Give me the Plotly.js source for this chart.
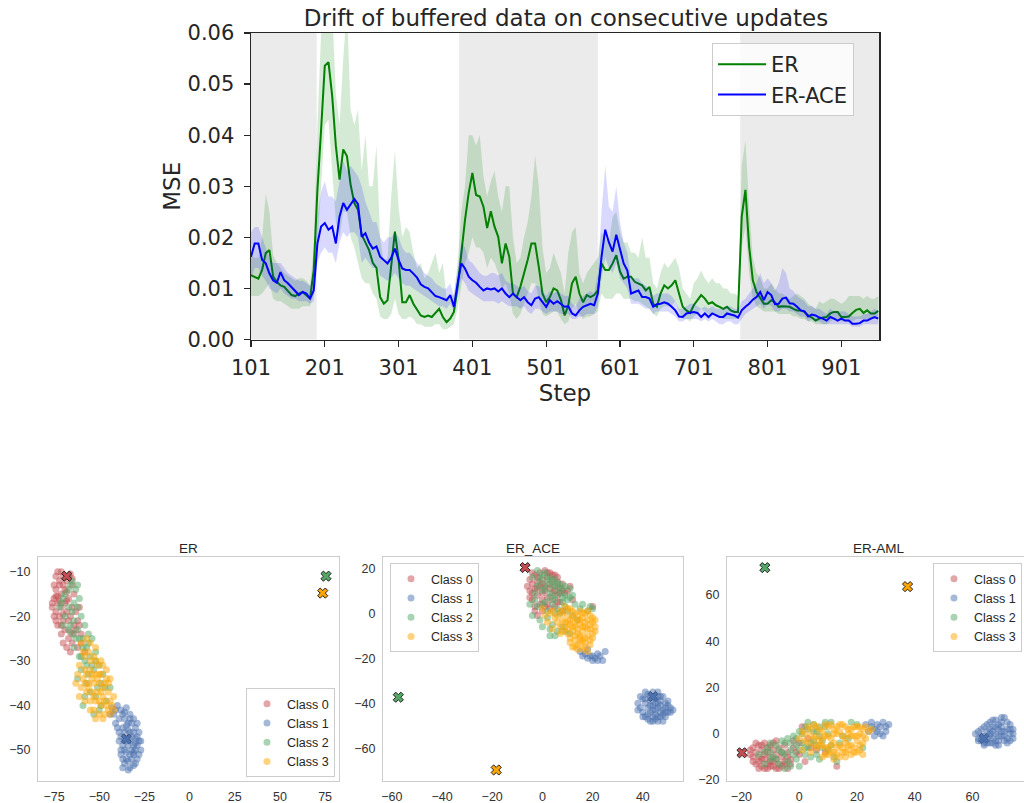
<!DOCTYPE html>
<html>
<head>
<meta charset="utf-8">
<script src="https://cdn.plot.ly/plotly-3.0.1.min.js"></script>
<style>html,body{margin:0;padding:0;background:#fff;}#chart{width:1024px;height:803px;}</style>
</head>
<body>
<div id="chart"></div>
<script>
// ---------- Top chart: MSE drift (sampled every 5 steps from 101) ----------
const erMse = [
.0126,.0123,.0119,.0136,.0169,.0175,.0123,.0113,.0106,.0103,
.0096,.0087,.0085,.0090,.0093,.0087,.0080,.0136,.0293,.0411,
.0536,.0543,.0477,.0379,.0313,.0372,.0359,.0303,.0267,.0254,
.0205,.0190,.0175,.0150,.0140,.0083,.0070,.0077,.0149,.0211,
.0156,.0073,.0073,.0087,.0070,.0057,.0047,.0044,.0047,.0044,
.0052,.0060,.0044,.0034,.0041,.0054,.0103,.0175,.0234,.0287,
.0326,.0283,.0280,.0260,.0218,.0251,.0221,.0201,.0149,.0188,
.0162,.0090,.0083,.0103,.0129,.0156,.0188,.0188,.0142,.0090,
.0073,.0083,.0100,.0096,.0077,.0047,.0067,.0110,.0123,.0090,
.0073,.0087,.0083,.0087,.0096,.0149,.0136,.0136,.0149,.0165,
.0133,.0119,.0123,.0123,.0113,.0110,.0106,.0096,.0103,.0070,
.0064,.0090,.0106,.0100,.0106,.0116,.0090,.0064,.0057,.0052,
.0067,.0077,.0087,.0080,.0070,.0073,.0067,.0064,.0060,.0064,
.0057,.0054,.0054,.0241,.0293,.0182,.0116,.0093,.0080,.0070,
.0070,.0077,.0073,.0064,.0065,.0064,.0064,.0060,.0057,.0057,
.0054,.0047,.0043,.0037,.0041,.0043,.0044,.0051,.0054,.0054,
.0044,.0044,.0045,.0052,.0058,.0060,.0052,.0057,.0051,.0051,
.0056];
const erLow = [
.0085,.0085,.0085,.0090,.0100,.0110,.0080,.0075,.0075,.0070,
.0065,.0060,.0060,.0060,.0065,.0065,.0065,.0090,.0180,.0300,
.0420,.0430,.0330,.0230,.0200,.0250,.0250,.0200,.0180,.0150,
.0120,.0110,.0110,.0090,.0080,.0045,.0040,.0040,.0050,.0080,
.0050,.0040,.0040,.0045,.0040,.0030,.0030,.0025,.0025,.0025,
.0030,.0030,.0020,.0020,.0025,.0030,.0060,.0110,.0150,.0170,
.0200,.0180,.0180,.0170,.0140,.0160,.0150,.0130,.0100,.0110,
.0090,.0050,.0040,.0050,.0070,.0090,.0110,.0110,.0080,.0050,
.0045,.0050,.0055,.0055,.0040,.0030,.0035,.0060,.0070,.0050,
.0040,.0045,.0045,.0050,.0055,.0090,.0080,.0080,.0080,.0090,
.0090,.0080,.0080,.0080,.0075,.0075,.0070,.0065,.0060,.0050,
.0045,.0060,.0065,.0065,.0065,.0075,.0055,.0040,.0040,.0035,
.0045,.0050,.0060,.0055,.0050,.0050,.0045,.0045,.0040,.0040,
.0040,.0040,.0040,.0180,.0220,.0130,.0080,.0065,.0060,.0055,
.0055,.0055,.0055,.0050,.0050,.0050,.0050,.0045,.0045,.0040,
.0040,.0035,.0035,.0030,.0030,.0030,.0030,.0035,.0040,.0040,
.0035,.0035,.0035,.0035,.0040,.0040,.0040,.0040,.0040,.0040,
.0040];
const erHigh = [
.0165,.0160,.0160,.0200,.0285,.0250,.0165,.0150,.0140,.0130,
.0125,.0120,.0115,.0120,.0120,.0115,.0105,.0180,.0420,.0600,
.0650,.0650,.0650,.0480,.0420,.0550,.0650,.0450,.0420,.0450,
.0330,.0400,.0300,.0300,.0380,.0200,.0150,.0160,.0280,.0370,
.0260,.0200,.0220,.0210,.0170,.0140,.0150,.0120,.0130,.0150,
.0170,.0130,.0150,.0080,.0080,.0090,.0150,.0250,.0300,.0400,
.0400,.0380,.0400,.0320,.0280,.0310,.0330,.0280,.0250,.0300,
.0300,.0200,.0150,.0160,.0200,.0230,.0280,.0360,.0300,.0180,
.0130,.0140,.0170,.0150,.0130,.0090,.0170,.0210,.0220,.0130,
.0110,.0130,.0140,.0150,.0160,.0210,.0200,.0190,.0240,.0250,
.0210,.0190,.0190,.0170,.0170,.0160,.0200,.0160,.0160,.0110,
.0100,.0130,.0150,.0140,.0150,.0160,.0140,.0100,.0090,.0080,
.0110,.0120,.0135,.0120,.0110,.0120,.0110,.0110,.0100,.0100,
.0090,.0090,.0085,.0340,.0390,.0260,.0160,.0130,.0120,.0100,
.0100,.0110,.0100,.0090,.0090,.0085,.0080,.0085,.0090,.0085,
.0080,.0070,.0065,.0060,.0075,.0070,.0075,.0080,.0080,.0075,
.0070,.0075,.0085,.0085,.0085,.0085,.0080,.0085,.0080,.0080,
.0085];
const aceMse = [
.0162,.0188,.0188,.0156,.0149,.0129,.0116,.0111,.0132,.0116,
.0110,.0103,.0096,.0087,.0093,.0090,.0080,.0096,.0188,.0221,
.0228,.0215,.0221,.0188,.0241,.0267,.0254,.0264,.0275,.0265,
.0201,.0208,.0190,.0178,.0182,.0162,.0156,.0149,.0160,.0178,
.0156,.0139,.0136,.0136,.0129,.0121,.0108,.0103,.0100,.0093,
.0085,.0083,.0080,.0077,.0087,.0064,.0110,.0149,.0139,.0123,
.0116,.0111,.0103,.0096,.0100,.0098,.0100,.0094,.0100,.0090,
.0083,.0090,.0083,.0077,.0083,.0073,.0067,.0080,.0083,.0073,
.0064,.0077,.0070,.0075,.0069,.0064,.0065,.0051,.0047,.0057,
.0064,.0067,.0070,.0067,.0090,.0162,.0215,.0190,.0172,.0205,
.0175,.0149,.0135,.0090,.0093,.0096,.0083,.0083,.0080,.0064,
.0069,.0070,.0073,.0070,.0064,.0057,.0045,.0044,.0051,.0052,
.0054,.0052,.0044,.0051,.0044,.0051,.0047,.0044,.0044,.0051,
.0049,.0047,.0043,.0057,.0064,.0070,.0078,.0083,.0093,.0077,
.0093,.0087,.0069,.0070,.0080,.0082,.0071,.0070,.0064,.0057,
.0055,.0045,.0049,.0047,.0043,.0041,.0037,.0044,.0041,.0037,
.0041,.0037,.0037,.0031,.0031,.0032,.0037,.0037,.0041,.0044,
.0041];
const aceLow = [
.0120,.0140,.0140,.0125,.0115,.0100,.0095,.0090,.0100,.0090,
.0085,.0080,.0080,.0075,.0075,.0075,.0070,.0075,.0150,.0170,
.0180,.0170,.0170,.0150,.0190,.0210,.0200,.0210,.0210,.0200,
.0150,.0160,.0150,.0140,.0140,.0125,.0120,.0115,.0120,.0130,
.0120,.0110,.0105,.0105,.0100,.0095,.0090,.0085,.0080,.0075,
.0070,.0065,.0065,.0060,.0070,.0055,.0085,.0120,.0110,.0095,
.0090,.0085,.0080,.0075,.0075,.0075,.0075,.0070,.0075,.0070,
.0065,.0065,.0065,.0060,.0065,.0055,.0050,.0060,.0060,.0055,
.0050,.0055,.0055,.0055,.0050,.0050,.0050,.0040,.0040,.0045,
.0045,.0050,.0050,.0050,.0065,.0120,.0160,.0140,.0130,.0150,
.0120,.0110,.0100,.0070,.0070,.0070,.0065,.0060,.0060,.0050,
.0055,.0055,.0055,.0055,.0050,.0045,.0035,.0035,.0040,.0040,
.0040,.0040,.0035,.0040,.0035,.0040,.0035,.0030,.0030,.0035,
.0035,.0030,.0030,.0040,.0050,.0055,.0060,.0065,.0070,.0060,
.0070,.0065,.0055,.0055,.0060,.0060,.0055,.0055,.0050,.0045,
.0045,.0035,.0040,.0035,.0035,.0030,.0030,.0030,.0030,.0030,
.0030,.0030,.0030,.0025,.0025,.0025,.0030,.0030,.0030,.0030,
.0030];
const aceHigh = [
.0210,.0220,.0220,.0200,.0180,.0160,.0150,.0150,.0150,.0140,
.0130,.0125,.0120,.0115,.0115,.0110,.0105,.0130,.0240,.0290,
.0310,.0280,.0280,.0270,.0310,.0350,.0330,.0340,.0330,.0320,
.0300,.0270,.0250,.0230,.0230,.0200,.0190,.0200,.0200,.0210,
.0200,.0180,.0170,.0170,.0160,.0150,.0140,.0130,.0125,.0120,
.0110,.0105,.0100,.0100,.0110,.0085,.0140,.0190,.0180,.0155,
.0150,.0140,.0130,.0125,.0125,.0130,.0130,.0125,.0130,.0115,
.0110,.0110,.0105,.0100,.0105,.0095,.0090,.0105,.0105,.0095,
.0085,.0095,.0090,.0095,.0090,.0085,.0085,.0070,.0065,.0080,
.0085,.0090,.0095,.0090,.0130,.0250,.0340,.0260,.0250,.0300,
.0230,.0190,.0170,.0120,.0120,.0120,.0110,.0105,.0100,.0085,
.0090,.0090,.0090,.0090,.0085,.0075,.0060,.0060,.0065,.0070,
.0070,.0065,.0060,.0065,.0060,.0065,.0060,.0060,.0060,.0065,
.0065,.0060,.0060,.0075,.0080,.0090,.0100,.0110,.0130,.0110,
.0120,.0110,.0095,.0110,.0140,.0130,.0100,.0095,.0085,.0080,
.0075,.0065,.0065,.0060,.0060,.0055,.0050,.0060,.0055,.0055,
.0055,.0055,.0050,.0045,.0045,.0045,.0050,.0050,.0055,.0060,
.0055];
const firstStep = 101, stepEvery = 5;
const steps = erMse.map((_, i) => firstStep + stepEvery * i);
const stepTicks = [101, 201, 301, 401, 501, 601, 701, 801, 901];
const mseTicks = [0, 0.01, 0.02, 0.03, 0.04, 0.05, 0.06];
const taskStart = [101, 383, 764];
const taskEnd = [190, 571, 952];

// ---------- Bottom charts: t-SNE embeddings ----------
const classNames = ['Class 0', 'Class 1', 'Class 2', 'Class 3'];
const classColors = ['#c44e52', '#4c72b0', '#55a868', '#ffa500'];

const erPts = [
 [[-73,-10],[-70,-11],[-66,-10.5],[-68,-12],[-72,-13],[-74,-14],[-71,-15],[-69,-14],[-75,-16],[-73,-17],[-76,-18],[-74,-19],[-71,-18],[-69,-17],[-67,-16],[-65,-13],[-64,-15],[-72,-20],[-70,-21],[-75,-20],[-73,-22],[-68,-19],[-66,-20],[-63,-19],[-61,-18],[-62,-21],[-64,-22],[-69,-23],[-71,-24],[-67,-25],[-65,-26],[-62,-27],[-60,-24],[-66,-28],[-72,-12],[-68,-14.5],[-74,-15.5],[-70,-19.5],[-60,-26],[-58,-28],
  [-74,-11],[-71,-10],[-67,-11],[-65,-11.5],[-75,-13],[-73,-15.5],[-70,-13],[-76,-17],[-72,-16.5],[-68,-16.5],[-74,-21],[-71,-22],[-67,-21],[-65,-18],[-63,-23],[-70,-26],[-68,-27],[-64,-24],[-61,-22],[-66,-23.5]],
 [[-43,-40.5],[-40,-40],[-38,-41],[-36,-41.5],[-42,-42],[-39,-43],[-36,-43],[-33,-42],[-41,-44],[-37,-45],[-34,-44],[-31,-43],[-36,-46],[-33,-46],[-30,-45],[-38,-47],[-35,-48],[-32,-47],[-29,-47],[-37,-49],[-34,-49],[-31,-49],[-28,-48],[-36,-50],[-33,-51],[-30,-50],[-27,-50],[-38,-51],[-35,-52],[-32,-52],[-29,-52],[-36,-53],[-33,-54],[-30,-53],[-34,-54.5],[-31,-51],[-39,-48],[-28,-46],[-35,-44.5],[-32,-50],[-37,-52],[-30,-47.5],[-44,-42],[-40,-45],[-29,-44],
  [-41,-41],[-37,-42],[-35,-40.5],[-34,-45.5],[-32,-44],[-31,-46],[-36,-47.5],[-33,-48],[-29,-49],[-38,-50],[-35,-50.5],[-31,-50.5],[-28,-51],[-34,-52.5],[-31,-53.5],[-37,-54],[-30,-48.5],[-27,-48],[-33,-43],[-39,-46]],
 [[-68,-11],[-66,-13],[-63,-14],[-70,-16],[-67,-18],[-64,-17],[-61,-16],[-71,-17],[-69,-20],[-66,-22],[-64,-21],[-60,-20],[-62,-23],[-58,-22],[-56,-24],[-59,-25],[-63,-25],[-57,-27],[-54,-25],[-55,-29],[-52,-28],[-58,-30],[-50,-31],[-53,-32],[-56,-33],[-62,-34],[-60,-32],[-48,-33],[-51,-36],[-55,-37],[-58,-38],[-49,-40],[-53,-42],[-46,-39],[-60,-29],[-65,-24],[-62,-13],[-72,-18],[-52,-30],[-47,-36],
  [-65,-12],[-69,-15],[-67,-14],[-65,-19],[-62,-18],[-70,-22],[-67,-23],[-61,-25],[-59,-27],[-56,-26],[-64,-27],[-61,-29],[-57,-31],[-54,-31],[-49,-35],[-57,-35],[-52,-38],[-59,-40],[-44,-36],[-50,-41]],
 [[-60,-26],[-57,-25],[-55,-26],[-52,-27],[-58,-29],[-55,-30],[-52,-30],[-49,-30],[-61,-31],[-58,-32],[-55,-32],[-52,-33],[-49,-33],[-46,-32],[-62,-33],[-59,-34],[-56,-35],[-53,-35],[-50,-35],[-47,-35],[-44,-34],[-60,-36],[-57,-37],[-54,-37],[-51,-37],[-48,-38],[-45,-37],[-55,-39],[-52,-39],[-49,-40],[-46,-40],[-43,-40],[-53,-41],[-50,-42],[-47,-42],[-44,-42],[-56,-36],[-54,-33],[-51,-34],[-48,-36],[-58,-35],[-50,-39],[-42,-38],[-46,-34],[-53,-38],
  [-59,-28],[-56,-28],[-53,-29],[-51,-31],[-48,-31],[-57,-33],[-50,-33],[-45,-35],[-63,-35],[-61,-38],[-58,-39],[-55,-41],[-49,-37],[-47,-39],[-44,-39],[-52,-43],[-48,-43],[-45,-41],[-42,-41],[-54,-34]]
];
const erProto = [[-68,-11],[-35,-47.5],[75.5,-11],[73.7,-14.8]];

const acePts = [
 [[-5,15],[-3,17],[-1,18],[1,19],[3,18],[5,17],[-4,13],[-2,14],[0,15],[2,16],[4,15],[6,14],[8,13],[-5,10],[-3,11],[-1,12],[1,12],[3,11],[5,10],[7,11],[9,9],[-2,8],[0,9],[2,7],[4,6],[6,8],[-4,6],[-1,4],[1,3],[3,2],[-3,1],[5,3],[7,5],[10,10],[11,12],[8,1],[20,3],[-2,-1],[12,6],[0,6],
  [-4,18],[-2,16],[0,13],[2,18],[4,17],[6,16],[-6,12],[-4,9],[-2,11],[1,10],[3,13],[5,12],[7,9],[-3,3],[0,1],[2,4],[4,9],[6,5],[8,10],[-5,7]],
 [[15,-17],[17,-18],[19,-19],[21,-20],[23,-19],[25,-17],[18,-20],[20,-21],[22,-21],[40,-38],[42,-36],[44,-35],[46,-35],[48,-37],[41,-40],[43,-39],[45,-38],[47,-39],[49,-40],[51,-42],[39,-42],[42,-42],[44,-41],[46,-42],[48,-43],[50,-44],[40,-44],[43,-44],[45,-45],[47,-46],[49,-46],[42,-47],[44,-48],[46,-48],[48,-48],[41,-46],[38,-40],[50,-39],[45,-43],[43,-37],[47,-44],[44,-46],[41,-38],[46,-40],[49,-42],
  [16,-19],[18,-16],[20,-19],[24,-21],[22,-18],[39,-37],[41,-35],[43,-41],[45,-40],[47,-41],[49,-44],[51,-44],[40,-46],[42,-45],[44,-43],[46,-46],[48,-45],[43,-48],[45,-47],[47,-37],[50,-41],[52,-43],[38,-43],[46,-37]],
 [[-2,19],[0,17],[3,16],[5,15],[7,13],[-4,16],[-1,14],[2,13],[4,12],[6,11],[9,12],[11,11],[-3,9],[0,10],[3,9],[5,8],[8,7],[10,6],[12,8],[-5,4],[-2,3],[1,5],[4,4],[6,2],[9,3],[13,4],[15,2],[18,1],[20,2],[-4,-1],[-1,-3],[2,-2],[4,-5],[6,-8],[8,-6],[11,-9],[3,-10],[0,-6],[14,-3],[7,0],
  [1,18],[-1,16],[2,15],[4,14],[6,13],[8,11],[-2,12],[1,11],[3,7],[5,6],[7,9],[9,8],[11,7],[-3,6],[0,4],[2,1],[5,0],[8,5],[10,1],[12,-1],[3,-7],[5,-10],[9,-8],[16,4],[19,3]],
 [[0,2],[3,0],[5,-2],[7,1],[9,3],[11,2],[13,0],[15,1],[17,0],[19,-1],[6,-4],[8,-3],[10,-1],[12,-2],[14,-3],[16,-2],[18,-3],[20,-4],[9,-6],[11,-5],[13,-6],[15,-5],[17,-6],[19,-7],[21,-8],[10,-9],[12,-8],[14,-9],[16,-8],[18,-10],[20,-11],[13,-12],[15,-11],[17,-13],[19,-14],[12,-15],[16,-16],[18,-17],[14,-14],[11,-11],[4,-7],[7,-9],[2,-4],[21,-3],[16,-12],
  [1,-1],[4,1],[6,-1],[8,0],[10,2],[12,1],[14,-1],[16,0],[18,1],[20,-2],[7,-6],[9,-4],[11,-3],[13,-4],[15,-3],[17,-4],[19,-5],[21,-6],[10,-7],[12,-6],[14,-7],[16,-6],[18,-7],[20,-9],[13,-10],[15,-10],[17,-11],[19,-12],[15,-13],[17,-15],[13,-15],[11,-13],[14,-16],[10,-4],[8,-8]]
];
const aceProto = [[-6.9,20.3],[44,-37],[-57.4,-37.3],[-18.4,-69.6]];

const amlPts = [
 [[-16,-6],[-14,-5],[-12,-4],[-10,-5],[-8,-3],[-15,-8],[-13,-7],[-11,-8],[-9,-7],[-7,-6],[-5,-5],[-16,-10],[-14,-10],[-12,-11],[-10,-10],[-8,-9],[-6,-10],[-4,-8],[-15,-13],[-13,-14],[-11,-13],[-9,-12],[-7,-13],[-5,-12],[-3,-11],[-14,-15],[-12,-15],[-10,-14],[-8,-15],[-6,-14],[-2,-6],[0,-9],[2,-12],[1,3],[3,-2],[6,-7],[9,-8],[13,-14],[-4,-15],[0,-4],
  [-17,-7],[-15,-4],[-13,-5],[-11,-6],[-9,-4],[-16,-12],[-14,-12],[-12,-9],[-10,-12],[-8,-11],[-6,-8],[-4,-10],[-13,-11],[-11,-15],[-9,-14],[-7,-15],[-5,-13],[-3,-13],[-1,-8],[-17,-9],[4,-6],[-2,-3]],
 [[23,4],[25,5],[27,4],[29,5],[31,4],[26,2],[28,0],[29,-1],[24,1],[30,3],[26,-1],[61,0],[62,-2],[63,2],[64,-4],[65,1],[65,4],[66,-1],[66,-4],[67,3],[67,6],[68,0],[68,-3],[69,2],[69,-5],[70,5],[70,-1],[71,7],[71,-3],[72,2],[72,-2],[73,4],[73,0],[74,-2],[74,2],[64,-1],[66,2],[68,-5],[70,1],[72,-4],[67,-2],[63,-3],[69,4],
  [25,3],[27,1],[28,3],[30,1],[62,1],[63,-1],[64,3],[65,-2],[66,5],[67,1],[68,3],[69,-1],[70,3],[71,1],[72,5],[73,2],[74,0],[65,-4],[67,-4],[69,-3],[71,-1],[73,-3],[70,7],[68,6],[66,0],[62,-3],[64,-5]],
 [[-14,-9],[-11,-6],[-8,-5],[-6,-3],[-4,-2],[-2,-1],[0,1],[2,3],[3,5],[5,4],[-9,-10],[-6,-8],[-3,-7],[-1,-5],[1,-4],[3,-6],[5,-3],[7,-1],[9,3],[11,5],[-7,-13],[-4,-12],[-1,-11],[2,-9],[4,-10],[6,-9],[8,-6],[10,-7],[12,-10],[13,-12],[-5,-15],[0,-14],[10,0],[14,-4],[17,-2],[20,4],[22,-6],[-12,-13],[-10,-8],[6,1],
  [-12,-8],[-10,-4],[-7,-7],[-5,-4],[-3,-4],[-1,-2],[1,0],[3,2],[5,1],[7,3],[9,5],[-8,-11],[-5,-9],[-2,-9],[0,-7],[2,-6],[4,-4],[6,-5],[8,-3],[11,-5],[-3,-14],[7,-11],[-10,-11],[15,-1],[18,5]],
 [[0,-2],[2,0],[4,2],[6,3],[8,1],[10,3],[12,2],[14,4],[16,3],[18,2],[20,3],[22,2],[24,1],[3,-4],[5,-2],[7,-3],[9,-1],[11,-2],[13,0],[15,-1],[17,0],[19,-1],[21,0],[23,-2],[6,-6],[8,-5],[10,-6],[12,-4],[14,-5],[16,-4],[18,-5],[20,-3],[22,-4],[9,-9],[11,-8],[13,-9],[15,-8],[17,-7],[19,-8],[21,-7],[12,-11],[16,-10],[4,-8],[1,-7],[25,2],
  [1,1],[3,3],[5,4],[7,2],[9,4],[11,4],[13,3],[15,4],[17,2],[19,3],[21,3],[23,3],[2,-3],[4,-1],[6,-1],[8,-2],[10,-1],[12,0],[14,1],[16,-2],[18,-1],[20,-1],[22,-1],[5,-5],[7,-5],[9,-6],[11,-5],[13,-6],[15,-6],[17,-5],[19,-6],[21,-5],[10,-9],[12,-8],[14,-10],[16,-8],[18,-9],[20,-8],[8,-10],[22,-9]]
];
const amlProto = [[-19.8,-8.2],[64,-2],[-11.9,71.8],[37.5,63.6]];

const panelTitles = ['ER', 'ER_ACE', 'ER-AML'];

// ---------- Build traces ----------
const traces = [];
function band(lo, hi, color) {
  traces.push({x: steps, y: lo, mode: 'lines', line: {width: 0, color: color}, showlegend: false, hoverinfo: 'skip', xaxis: 'x', yaxis: 'y'});
  traces.push({x: steps, y: hi, mode: 'lines', line: {width: 0, color: color}, fill: 'tonexty', fillcolor: color, showlegend: false, hoverinfo: 'skip', xaxis: 'x', yaxis: 'y'});
}
band(erLow, erHigh, 'rgba(0,128,0,0.17)');
traces.push({x: steps, y: erMse, mode: 'lines', name: 'ER', line: {color: '#008000', width: 2}, xaxis: 'x', yaxis: 'y', legend: 'legend'});
band(aceLow, aceHigh, 'rgba(0,0,255,0.15)');
traces.push({x: steps, y: aceMse, mode: 'lines', name: 'ER-ACE', line: {color: '#0000ff', width: 2}, xaxis: 'x', yaxis: 'y', legend: 'legend'});

const panels = [[erPts, erProto], [acePts, aceProto], [amlPts, amlProto]];
panels.forEach(([pts, proto], p) => {
  const ax = p + 2;
  // class-1 prototype sits beneath its cluster
  traces.push({
    x: [proto[1][0]], y: [proto[1][1]], mode: 'markers', showlegend: false,
    marker: {symbol: 'x', size: 9, color: classColors[1], line: {color: '#222', width: 1}},
    xaxis: 'x' + ax, yaxis: 'y' + ax
  });
  pts.forEach((cls, c) => {
    traces.push({
      x: cls.map(d => d[0]), y: cls.map(d => d[1]), mode: 'markers', name: classNames[c],
      marker: {color: classColors[c], size: 7, opacity: 0.5, line: {width: 0}},
      xaxis: 'x' + ax, yaxis: 'y' + ax, legend: 'legend' + ax
    });
  });
  const others = [0, 2, 3];
  traces.push({
    x: others.map(c => proto[c][0]), y: others.map(c => proto[c][1]), mode: 'markers', showlegend: false,
    marker: {symbol: 'x', size: 9, color: others.map(c => classColors[c]), line: {color: '#222', width: 1}},
    xaxis: 'x' + ax, yaxis: 'y' + ax
  });
});

// ---------- Layout ----------
const topFont = 'DejaVu Sans';
const botFont = 'Liberation Sans, Arial, sans-serif';
function sAxis(domain, range, tickvals, anchor) {
  return {domain: domain, range: range, tickvals: tickvals, anchor: anchor,
    showline: true, mirror: true, linecolor: '#cccccc', linewidth: 1,
    showgrid: false, zeroline: false, ticks: 'outside', ticklen: 4, tickcolor: 'rgba(0,0,0,0)',
    tickfont: {family: botFont, size: 12.5, color: '#333'}};
}
function sLegend(x, xanchor, y, yanchor) {
  return {x: x, xanchor: xanchor, y: y, yanchor: yanchor, bgcolor: 'rgba(255,255,255,0.8)',
    bordercolor: '#cccccc', borderwidth: 1, font: {family: botFont, size: 12.5, color: '#262626'},
    tracegroupgap: 0, traceorder: 'normal'};
}
const shapes = taskStart.map((s, i) => ({type: 'rect', xref: 'x', yref: 'y domain', x0: s, x1: taskEnd[i], y0: 0, y1: 1,
  fillcolor: '#ebebeb', line: {width: 0}, layer: 'below'}));

const layout = {
  width: 1024, height: 803,
  margin: {l: 0, r: 0, t: 0, b: 0},
  paper_bgcolor: '#fff', plot_bgcolor: '#fff',
  font: {family: topFont, color: '#262626'},
  title: {text: 'Drift of buffered data on consecutive updates', x: 566/1024, xanchor: 'center', y: 1 - 18/803, yanchor: 'middle',
    font: {family: topFont, size: 23, color: '#262626'}},
  showlegend: true,
  xaxis: {domain: [251/1024, 879/1024], anchor: 'y', range: [101, 952], tickvals: stepTicks,
    showline: true, mirror: true, linecolor: '#262626', linewidth: 1.5, showgrid: false, zeroline: false,
    ticks: 'outside', ticklen: 6, tickwidth: 1.3, tickcolor: '#262626', ticklabelstandoff: 3,
    tickfont: {family: topFont, size: 21, color: '#262626'},
    title: {text: 'Step', font: {family: topFont, size: 23, color: '#262626'}, standoff: 3}},
  yaxis: {domain: [1 - 339.5/803, 1 - 33/803], anchor: 'x', range: [0, 0.06], tickvals: mseTicks, tickformat: '.2f',
    showline: true, mirror: true, linecolor: '#262626', linewidth: 1.5, showgrid: false, zeroline: false,
    ticks: 'outside', ticklen: 6, tickwidth: 1.3, tickcolor: '#262626', ticklabelstandoff: 5,
    tickfont: {family: topFont, size: 21, color: '#262626'},
    title: {text: 'MSE', font: {family: topFont, size: 23, color: '#262626'}, standoff: 0}},
  legend: {x: 712/1024, xanchor: 'left', y: 1 - 43/803, yanchor: 'top', bgcolor: 'rgba(255,255,255,0.8)',
    bordercolor: '#cccccc', borderwidth: 1, traceorder: 'normal', itemwidth: 48,
    font: {family: topFont, size: 21, color: '#262626'}},
  xaxis2: sAxis([38/1024, 339/1024], [-83.9, 82.7], [-75, -50, -25, 0, 25, 50, 75], 'y2'),
  yaxis2: sAxis([1 - 781/803, 1 - 557/803], [-56.95, -6.7], [-10, -20, -30, -40, -50], 'x2'),
  xaxis3: sAxis([383/1024, 683/1024], [-63.5, 56], [-60, -40, -20, 0, 20, 40], 'y3'),
  yaxis3: sAxis([1 - 781/803, 1 - 557/803], [-74.5, 25], [20, 0, -20, -40, -60], 'x3'),
  xaxis4: sAxis([727/1024, 1], [-25, 77.8], [-20, 0, 20, 40, 60], 'y4'),
  yaxis4: sAxis([1 - 781/803, 1 - 557/803], [-20.4, 76.4], [60, 40, 20, 0, -20], 'x4'),
  legend2: sLegend(335/1024, 'right', 1 - 777/803, 'bottom'),
  legend3: sLegend(390/1024, 'left', 1 - 563/803, 'top'),
  legend4: sLegend(1022/1024, 'right', 1 - 563/803, 'top'),
  shapes: shapes,
  annotations: panelTitles.map((t, i) => ({text: t, xref: 'paper', yref: 'paper',
    x: [188.5, 533, 878][i] / 1024, y: 1 - 548/803, xanchor: 'center', yanchor: 'middle', showarrow: false,
    font: {family: botFont, size: 13.5, color: '#262626'}}))
};

Plotly.newPlot('chart', traces, layout, {displayModeBar: false, staticPlot: true});
</script>
</body>
</html>
